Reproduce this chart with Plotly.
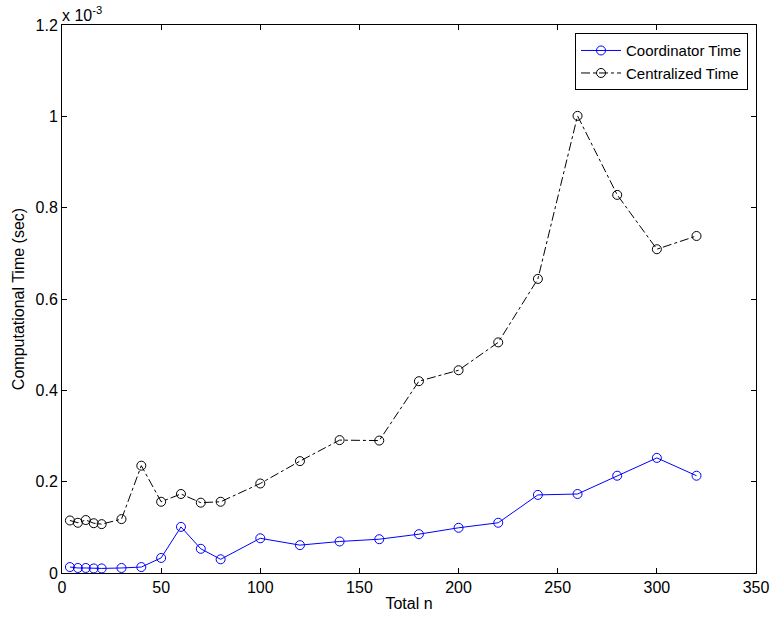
import plotly.graph_objects as go

# x values (Total n)
total_n = [4, 8, 12, 16, 20, 30, 40, 50, 60, 70, 80, 100, 120, 140, 160, 180, 200, 220, 240, 260, 280, 300, 320]
# times in units of 1e-3 sec
coordinator_time = [0.013, 0.011, 0.011, 0.010, 0.010, 0.011, 0.013, 0.033, 0.101, 0.053, 0.030, 0.076,
                    0.061, 0.069, 0.074, 0.085, 0.099, 0.110, 0.171, 0.173, 0.213, 0.252, 0.213]
centralized_time = [0.115, 0.110, 0.116, 0.109, 0.107, 0.118, 0.235, 0.156, 0.173, 0.154, 0.156, 0.196,
                    0.245, 0.291, 0.290, 0.420, 0.444, 0.505, 0.644, 1.001, 0.828, 0.709, 0.738]

x_ticks = [0, 50, 100, 150, 200, 250, 300, 350]
y_ticks = [0, 0.2, 0.4, 0.6, 0.8, 1.0, 1.2]
y_tick_labels = ["0", "0.2", "0.4", "0.6", "0.8", "1", "1.2"]

font = "Liberation Sans, Arial, Helvetica, sans-serif"
FS = 16

fig = go.Figure()
fig.add_trace(go.Scatter(
    x=total_n, y=coordinator_time, name="Coordinator Time", mode="lines+markers",
    line=dict(color="#0000ff", width=1),
    marker=dict(symbol="circle-open", size=9, color="#0000ff", line=dict(width=1)),
))
fig.add_trace(go.Scatter(
    x=total_n, y=centralized_time, name="Centralized Time", mode="lines+markers",
    line=dict(color="black", width=1, dash="dashdot"),
    marker=dict(symbol="circle-open", size=9, color="black", line=dict(width=1)),
))

axis_common = dict(
    showline=True, linecolor="black", linewidth=1, mirror="ticks",
    ticks="inside", ticklen=5, tickcolor="black", showgrid=False, zeroline=False,
    tickfont=dict(size=FS, color="black", family=font), automargin=False,
)

fig.update_layout(
    width=771, height=619,
    margin=dict(l=62, r=15, t=25, b=46),
    paper_bgcolor="white", plot_bgcolor="white",
    font=dict(family=font, size=FS, color="black"),
    xaxis=dict(range=[0, 350], tickvals=x_ticks,
               title=dict(text="Total n", font=dict(size=FS), standoff=2), **axis_common),
    yaxis=dict(range=[0, 1.2], tickvals=y_ticks, ticktext=y_tick_labels,
               title=dict(text="Computational Time (sec)", font=dict(size=FS), standoff=6), **axis_common),
    legend=dict(x=0.9885, y=0.985, xanchor="right", yanchor="top",
                bordercolor="black", borderwidth=1, bgcolor="white",
                font=dict(size=15, color="black"), tracegroupgap=0, itemwidth=40),
    showlegend=True,
)

fig.add_annotation(xref="paper", yref="paper", x=0, y=1, xanchor="left", yanchor="bottom",
                   text="x 10<sup>-3</sup>", showarrow=False, font=dict(size=FS, color="black"),
                   xshift=-2, yshift=-1)

fig.write_html("out.html", config={"displayModeBar": False},
               post_script="document.body.style.margin='0';document.body.style.padding='0';")
